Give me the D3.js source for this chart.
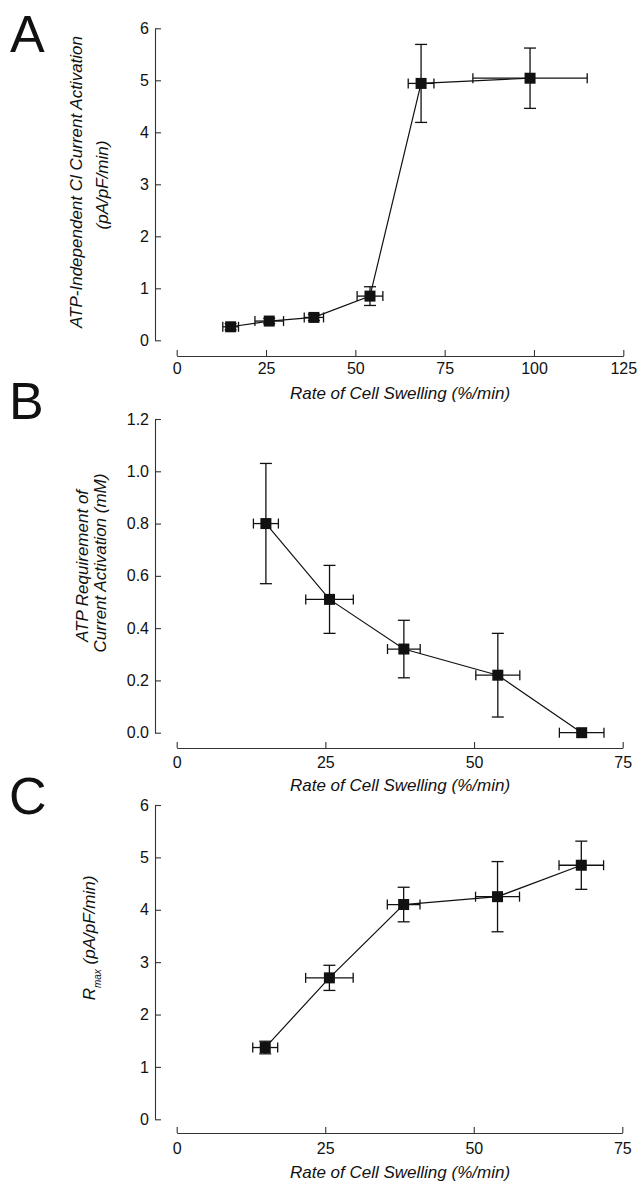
<!DOCTYPE html>
<html>
<head>
<meta charset="utf-8">
<script src="https://cdn.jsdelivr.net/npm/d3@7"></script>
<style>
  body { margin: 0; background: #fff; }
  svg text { font-family: "Liberation Sans", Arial, sans-serif; fill: #111; }
</style>
</head>
<body>
<div id="chart"></div>
<script>
// Panel A: ATP-independent current activation vs swelling rate
const swellA = [15.1, 25.9, 38.4, 54.1, 68.4, 98.9];
const swellAErr = [2.2, 4.0, 2.7, 3.6, 3.6, 16.0];
const currentA = [0.26, 0.37, 0.44, 0.85, 4.94, 5.04];
const currentAErr = [0.06, 0.05, 0.06, 0.18, 0.75, 0.58];

// Panel B: ATP requirement vs swelling rate
const swellB = [15.0, 25.7, 38.2, 54.0, 68.1];
const swellBErr = [2.1, 4.0, 2.75, 3.7, 3.75];
const atpReq = [0.80, 0.51, 0.32, 0.22, 0.0];
const atpReqErr = [0.23, 0.13, 0.11, 0.16, 0];

// Panel C: Rmax vs swelling rate
const swellC = [14.9, 25.7, 38.2, 54.0, 68.1];
const swellCErr = [2.1, 4.0, 2.75, 3.7, 3.75];
const rmax = [1.37, 2.70, 4.10, 4.25, 4.85];
const rmaxErr = [0.12, 0.24, 0.33, 0.67, 0.46];

// tick values
const xTicksA = [0, 25, 50, 75, 100, 125];
const xTicksBC = [0, 25, 50, 75];
const yTicksA = [0, 1, 2, 3, 4, 5, 6];
const yTicksB = [0, 0.2, 0.4, 0.6, 0.8, 1.0, 1.2];
const yTicksC = [0, 1, 2, 3, 4, 5, 6];

const width = 637;
const height = 1182;

const svg = d3.select("#chart")
  .append("svg")
  .attr("width", width)
  .attr("height", height);

function drawPanel(cfg) {
  const x = d3.scaleLinear().domain(cfg.xDomain).range([176.7, cfg.xRight]);
  const y = d3.scaleLinear().domain(cfg.yDomain).range([cfg.yBottom, cfg.yTop]);
  const g = svg.append("g");

  // y axis, ticks pointing inward
  const yAxis = g.append("g")
    .attr("transform", "translate(155,0)")
    .call(d3.axisLeft(y).tickValues(cfg.yTicks).tickFormat(cfg.yFormat)
      .tickSizeInner(-6).tickSizeOuter(0).tickPadding(6));
  yAxis.selectAll("text").style("font-size", "16px");

  // x axis, offset below the plot
  const xAxis = g.append("g")
    .attr("transform", `translate(0,${cfg.xAxisY})`)
    .call(d3.axisBottom(x).tickValues(cfg.xTicks).tickFormat(d3.format("d"))
      .tickSizeInner(-6).tickSizeOuter(0).tickPadding(cfg.xPad));
  xAxis.selectAll("text").style("font-size", "16px");

  g.selectAll(".domain, .tick line").attr("stroke", "#333").attr("stroke-width", 1.1);

  const pts = cfg.xs.map((v, i) => ({ x: v, xe: cfg.xe[i], y: cfg.ys[i], ye: cfg.ye[i] }));

  // connecting line
  g.append("path")
    .datum(pts)
    .attr("fill", "none")
    .attr("stroke", "#111")
    .attr("stroke-width", 1.2)
    .attr("d", d3.line().x(d => x(d.x)).y(d => y(d.y)));

  const cap = 6;
  const eb = g.append("g").attr("stroke", "#111").attr("stroke-width", 1.3);

  // vertical error bars
  pts.filter(d => d.ye > 0).forEach(d => {
    const cx = x(d.x), y1 = y(d.y + d.ye), y2 = y(d.y - d.ye);
    eb.append("line").attr("x1", cx).attr("x2", cx).attr("y1", y1).attr("y2", y2);
    eb.append("line").attr("x1", cx - cap).attr("x2", cx + cap).attr("y1", y1).attr("y2", y1);
    eb.append("line").attr("x1", cx - cap).attr("x2", cx + cap).attr("y1", y2).attr("y2", y2);
  });

  // horizontal error bars
  pts.forEach(d => {
    const cy = y(d.y), x1 = x(d.x - d.xe), x2 = x(d.x + d.xe);
    eb.append("line").attr("x1", x1).attr("x2", x2).attr("y1", cy).attr("y2", cy);
    eb.append("line").attr("x1", x1).attr("x2", x1).attr("y1", cy - 5).attr("y2", cy + 5);
    eb.append("line").attr("x1", x2).attr("x2", x2).attr("y1", cy - 5).attr("y2", cy + 5);
  });

  // square markers
  const s = 11;
  g.selectAll("rect.pt")
    .data(pts)
    .enter()
    .append("rect")
    .attr("class", "pt")
    .attr("x", d => x(d.x) - s / 2)
    .attr("y", d => y(d.y) - s / 2)
    .attr("width", s)
    .attr("height", s)
    .attr("fill", "#111");

  // x axis title
  g.append("text")
    .attr("x", 400)
    .attr("y", cfg.xTitleY)
    .attr("text-anchor", "middle")
    .attr("dy", "0.35em")
    .style("font-size", "17px")
    .style("font-style", "italic")
    .text("Rate of Cell Swelling (%/min)");

  // panel letter
  g.append("text")
    .attr("x", cfg.letterX)
    .attr("y", cfg.letterY)
    .style("font-size", "52px")
    .text(cfg.letter);

  return g;
}

function yTitle(g, text, cx, cy) {
  return g.append("text")
    .attr("transform", `translate(${cx},${cy}) rotate(-90)`)
    .attr("text-anchor", "middle")
    .attr("dy", "0.35em")
    .style("font-size", "17px")
    .style("font-style", "italic")
    .text(text);
}

const gA = drawPanel({
  letter: "A", letterX: 10, letterY: 52,
  xDomain: [0, 125], xRight: 623.3, xTicks: xTicksA, xAxisY: 356, xPad: 7, xTitleY: 393,
  yDomain: [0, 6], yBottom: 340.3, yTop: 28.3, yTicks: yTicksA, yFormat: d3.format("d"),
  xs: swellA, xe: swellAErr, ys: currentA, ye: currentAErr
});
yTitle(gA, "ATP-Independent Cl Current Activation", 76, 182);
yTitle(gA, "(pA/pF/min)", 102, 185);

const gB = drawPanel({
  letter: "B", letterX: 9, letterY: 419,
  xDomain: [0, 75], xRight: 622.7, xTicks: xTicksBC, xAxisY: 748, xPad: 9, xTitleY: 785,
  yDomain: [0, 1.2], yBottom: 732.7, yTop: 419, yTicks: yTicksB, yFormat: d3.format(".1f"),
  xs: swellB, xe: swellBErr, ys: atpReq, ye: atpReqErr
});
yTitle(gB, "ATP Requirement of", 82, 566);
yTitle(gB, "Current Activation (mM)", 100, 563);

const gC = drawPanel({
  letter: "C", letterX: 9, letterY: 814,
  xDomain: [0, 75], xRight: 622.3, xTicks: xTicksBC, xAxisY: 1133, xPad: 10, xTitleY: 1172,
  yDomain: [0, 6], yBottom: 1119.3, yTop: 805, yTicks: yTicksC, yFormat: d3.format("d"),
  xs: swellC, xe: swellCErr, ys: rmax, ye: rmaxErr
});
const tC = yTitle(gC, "", 89, 938);
tC.append("tspan").text("R");
tC.append("tspan").attr("baseline-shift", "sub").style("font-size", "10px").text("max");
tC.append("tspan").text(" (pA/pF/min)");
</script>
</body>
</html>
